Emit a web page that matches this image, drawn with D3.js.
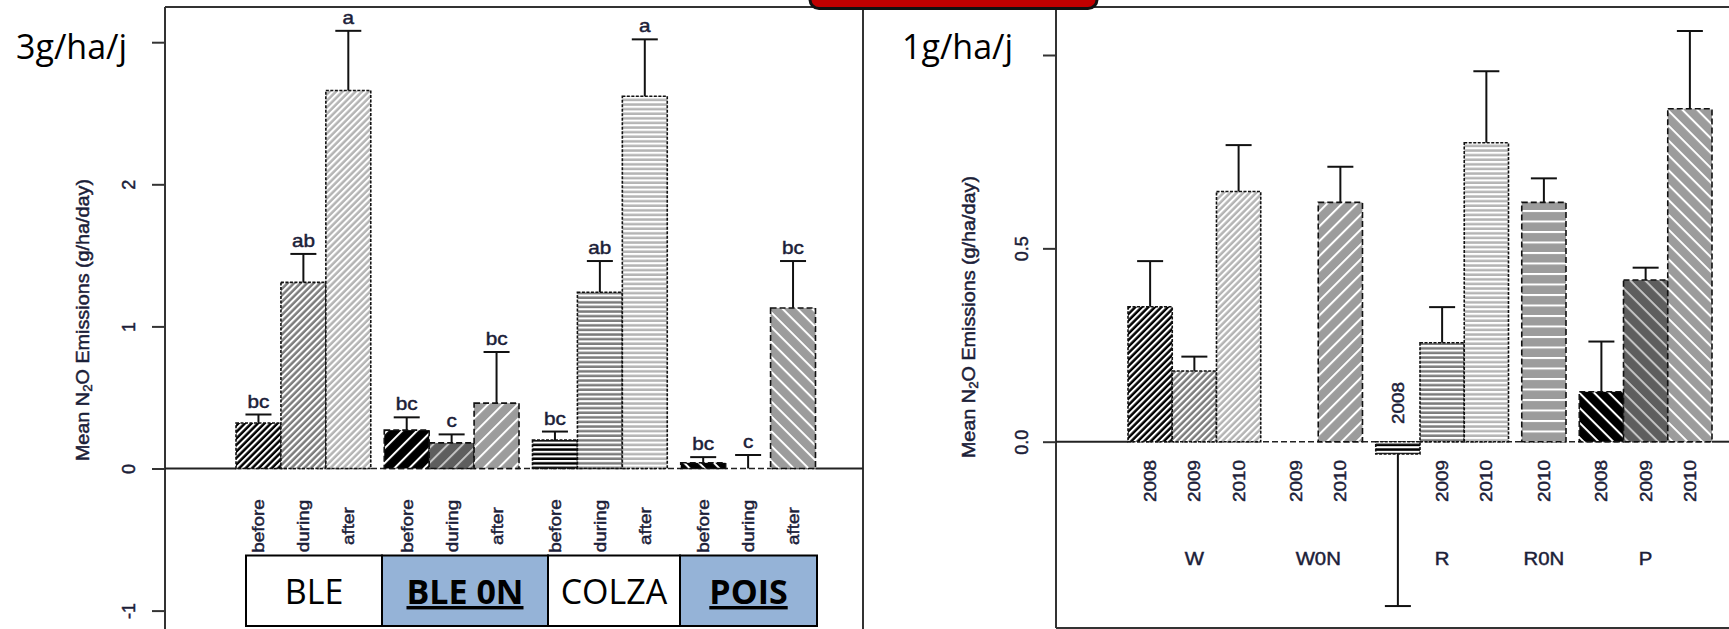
<!DOCTYPE html>
<html>
<head>
<meta charset="utf-8">
<script src="https://cdn.jsdelivr.net/npm/d3@7/dist/d3.min.js"></script>
<style>
  html, body { margin: 0; padding: 0; background: #fff; }
  svg { display: block; }
</style>
</head>
<body>
<svg id="chart" width="1729" height="629"></svg>
<script>
// ---- Left panel: mean N2O emissions by crop and sampling period ----
const leftGroups = ["BLE", "BLE 0N", "COLZA", "POIS"];
const leftPeriods = ["before", "during", "after"];
const leftMeans   = [0.32, 1.31, 2.66,  0.27, 0.18, 0.46,  0.20, 1.24, 2.62,  0.04, 0.00, 1.13];
const leftErrTop  = [0.38, 1.51, 3.08,  0.36, 0.24, 0.82,  0.26, 1.46, 3.02,  0.08, 0.095, 1.46];
const leftLetters = ["bc", "ab", "a",   "bc", "c", "bc",   "bc", "ab", "a",   "bc", "c", "bc"];
const leftTicks = [-1, 0, 1, 2, 3];
const leftTickLabels = ["-1", "0", "1", "2", "3"];
const leftNote = "3g/ha/j";

// ---- Right panel: mean N2O emissions by crop and year ----
const rightGroups = ["W", "W0N", "R", "R0N", "P"];
const rightYears = [["2008", "2009", "2010"], ["2009", "2010"], ["2008", "2009", "2010"], ["2010"], ["2008", "2009", "2010"]];
const rightMeans = [0.349, 0.183, 0.647,  0.000, 0.619,  -0.032, 0.256, 0.773,  0.619,  0.129, 0.418, 0.861];
const rightErr   = [0.467, 0.220, 0.767,  null,  0.711,  -0.425, 0.348, 0.958,  0.681,  0.259, 0.450, 1.062];
const rightTicks = [0, 0.5, 1];
const rightTickLabels = ["0.0", "0.5", "1.0"];
const rightNote = "1g/ha/j";

const yTitle = ["Mean N", "2", "O Emissions (g/ha/day)"];

// ---- styling ----
const INK = "#1b2038";
const FRAME = "#333";
const RFONT = "'Liberation Sans', Arial, Helvetica, sans-serif";
const SFONT = "'Open Sans', 'Noto Sans', sans-serif";

const svg = d3.select("#chart");
const defs = svg.append("defs");

const denseBg  = ["#000000", "#7c7c7c", "#b4b4b4"];
const sparseBg = ["#000000", "#5e5e5e", "#9c9c9c"];
const sparseLine = ["#ffffff", "#c4c4c4", "#ffffff"];

function hatch(angle, dense, shade) {
  const id = `hatch_${angle < 0 ? "m" : "p"}${Math.abs(angle)}_${dense ? "d" : "s"}_${shade}`;
  if (!defs.select("#" + id).empty()) return id;
  const p = dense ? 4.6 : 10.5;
  const lw = dense ? 2.1 : 2.0;
  const pat = defs.append("pattern")
    .attr("id", id)
    .attr("patternUnits", "userSpaceOnUse")
    .attr("width", p).attr("height", p)
    .attr("patternTransform", `rotate(${angle})`);
  pat.append("rect").attr("width", p).attr("height", p).attr("fill", (dense ? denseBg : sparseBg)[shade]);
  pat.append("rect").attr("y", 0).attr("width", p).attr("height", lw).attr("fill", dense ? "#ffffff" : sparseLine[shade]);
  return id;
}

// give the plot lettering the heavier look of the exported figure
function inked(sel) {
  return sel.attr("fill", INK).attr("stroke", INK).attr("stroke-width", 0.45);
}

// bars are laid out in slot units: one unit per bar, 0.3 unit between groups
function layoutUnits(sizes, gap) {
  const out = [];
  let u = 0;
  sizes.forEach((n, g) => {
    for (let i = 0; i < n; i++) { out.push({ g, i, u }); u += 1; }
    u += gap;
  });
  return { slots: out, total: u - gap };
}

// ---- frame lines ----
const frame = svg.append("g").attr("stroke", FRAME).attr("stroke-width", 2).attr("fill", "none");
frame.append("line").attr("x1", 165).attr("x2", 1729).attr("y1", 7).attr("y2", 7);
frame.append("line").attr("x1", 165).attr("x2", 165).attr("y1", 7).attr("y2", 629);
frame.append("line").attr("x1", 863).attr("x2", 863).attr("y1", 7).attr("y2", 629);
frame.append("line").attr("x1", 1056).attr("x2", 1056).attr("y1", 7).attr("y2", 628);
frame.append("line").attr("x1", 1056).attr("x2", 1729).attr("y1", 628).attr("y2", 628);

function drawPanel(o) {
  const { slots, total } = layoutUnits(o.sizes, 0.3);
  const x = d3.scaleLinear().domain([0, total]).range(o.xRange);
  const y = d3.scaleLinear().domain([0, 1]).range(o.yRange);
  const bw = x(1) - x(0);
  const y0 = y(0);

  const g = svg.append("g");

  // baseline: solid outside the bars, dashed through them
  g.append("line").attr("x1", o.axisX).attr("x2", x(0)).attr("y1", y0).attr("y2", y0)
    .attr("stroke", "#222").attr("stroke-width", 2);
  g.append("line").attr("x1", x(total)).attr("x2", o.xEnd).attr("y1", y0).attr("y2", y0)
    .attr("stroke", "#222").attr("stroke-width", 2);
  g.append("line").attr("x1", x(0)).attr("x2", x(total)).attr("y1", y0).attr("y2", y0)
    .attr("stroke", "#222").attr("stroke-width", 1.6).attr("stroke-dasharray", "6,3");

  slots.forEach((s, k) => {
    const v = o.means[k];
    const dense = o.dense[s.g];
    const id = hatch(o.angles[s.g], dense, o.shade(s, k));
    const top = Math.min(y(v), y0), bot = Math.max(y(v), y0);
    g.append("rect")
      .attr("x", x(s.u)).attr("y", top)
      .attr("width", bw).attr("height", bot - top)
      .attr("fill", `url(#${id})`)
      .attr("stroke", "#111").attr("stroke-width", 1.6)
      .attr("stroke-dasharray", dense ? "3,1.5" : "6,3");

    const e = o.err[k];
    const cx = x(s.u + 0.5);
    if (e !== null && e !== undefined) {
      const eg = g.append("g").attr("stroke", "#111").attr("stroke-width", 2);
      eg.append("line").attr("x1", cx).attr("x2", cx).attr("y1", y(v)).attr("y2", y(e));
      eg.append("line").attr("x1", cx - 13).attr("x2", cx + 13).attr("y1", y(e)).attr("y2", y(e));
      if (o.letters) {
        inked(g.append("text")
          .attr("transform", `translate(${cx},${y(e) - 7}) scale(1.15,1)`)
          .attr("text-anchor", "middle")
          .attr("font-family", RFONT).attr("font-size", 18))
          .text(o.letters[k]);
      }
    }

    // rotated category label under the bar (above the baseline for negative bars)
    const ly = v < 0 ? o.negLabelY : o.labelY;
    inked(g.append("text")
      .attr("transform", `translate(${cx},${ly}) rotate(-90) scale(1.18,1)`)
      .attr("x", 0).attr("y", 6)
      .attr("text-anchor", "middle")
      .attr("font-family", RFONT).attr("font-size", 16))
      .text(o.labels[k]);
  });

  // group names under the bars
  if (o.groupLabelY) {
    let start = 0;
    o.sizes.forEach((n, gi) => {
      const u0 = slots[start].u;
      const cx = x(u0 + n / 2);
      inked(g.append("text")
        .attr("transform", `translate(${cx},${o.groupLabelY}) scale(1.1,1)`)
        .attr("text-anchor", "middle")
        .attr("font-family", RFONT).attr("font-size", 18.5))
        .text(o.groups[gi]);
      start += n;
    });
  }

  // y axis
  const axis = d3.axisLeft(y)
    .tickValues(o.ticks)
    .tickFormat((d, i) => o.tickLabels[i])
    .tickSize(13);
  const ga = svg.append("g").attr("transform", `translate(${o.axisX},0)`).call(axis);
  ga.select(".domain").remove();
  ga.selectAll(".tick line").attr("stroke", FRAME).attr("stroke-width", 2);
  inked(ga.selectAll(".tick text")
    .attr("x", 0).attr("dy", null)
    .attr("y", o.tickLabelX + 6.5)
    .attr("transform", "rotate(-90)")
    .attr("text-anchor", "middle")
    .attr("font-family", RFONT).attr("font-size", 18));

  // y axis title
  const t = inked(svg.append("text")
    .attr("transform", `translate(${o.titleX},${o.titleY}) rotate(-90) scale(1.1,1)`)
    .attr("x", 0).attr("y", 6.5)
    .attr("text-anchor", "middle")
    .attr("font-family", RFONT).attr("font-size", 18));
  t.append("tspan").text(yTitle[0]);
  t.append("tspan").attr("font-size", 12).attr("dy", 4).text(yTitle[1]);
  t.append("tspan").attr("dy", -4).text(yTitle[2]);
}

// left panel
drawPanel({
  sizes: [3, 3, 3, 3],
  xRange: [236, 815.5],
  yRange: [468.5, 326.4],
  axisX: 165, xEnd: 863,
  means: leftMeans, err: leftErrTop, letters: leftLetters,
  labels: leftGroups.flatMap(() => leftPeriods),
  angles: [-45, -45, 0, 45],
  dense: [true, false, true, false],
  shade: (s) => s.i,
  labelY: 526, negLabelY: 420,
  ticks: leftTicks, tickLabels: leftTickLabels,
  tickLabelX: -37,
  titleX: 82, titleY: 320
});

// right panel
const yearShade = { "2008": 0, "2009": 1, "2010": 2 };
const rightLabels = rightYears.flat();
drawPanel({
  sizes: rightYears.map(d => d.length),
  xRange: [1128, 1712],
  yRange: [441.7, 55],
  axisX: 1056, xEnd: 1729,
  means: rightMeans, err: rightErr, letters: null,
  labels: rightLabels,
  angles: [-45, -45, 0, 0, 45],
  dense: [true, false, true, false, false],
  shade: (s, k) => yearShade[rightLabels[k]],
  labelY: 481, negLabelY: 403,
  groups: rightGroups, groupLabelY: 565,
  ticks: rightTicks, tickLabels: rightTickLabels,
  tickLabelX: -35,
  titleX: 968, titleY: 317
});

// ---- slide annotations ----
// dose notes in white text boxes over the upper tick labels
svg.append("rect").attr("x", 0).attr("y", 18).attr("width", 150).attr("height", 58).attr("fill", "#fff");
svg.append("text").attr("x", 16).attr("y", 59)
  .attr("font-family", SFONT).attr("font-size", 34).attr("fill", "#000")
  .text(leftNote);
svg.append("rect").attr("x", 885).attr("y", 18).attr("width", 155).attr("height", 58).attr("fill", "#fff");
svg.append("text").attr("x", 902).attr("y", 59)
  .attr("font-family", SFONT).attr("font-size", 34).attr("fill", "#000")
  .text(rightNote);

// crop table below the left panel
const boxEdges = [246, 382, 548, 680, 817];
const boxFill = ["#ffffff", "#95b3d7", "#ffffff", "#95b3d7"];
const boxBold = [false, true, false, true];
const tbl = svg.append("g");
leftGroups.forEach((name, i) => {
  tbl.append("rect")
    .attr("x", boxEdges[i]).attr("y", 555.5)
    .attr("width", boxEdges[i + 1] - boxEdges[i]).attr("height", 70.5)
    .attr("fill", boxFill[i]).attr("stroke", "#000").attr("stroke-width", 2);
  tbl.append("text")
    .attr("x", (boxEdges[i] + boxEdges[i + 1]) / 2).attr("y", 604)
    .attr("text-anchor", "middle")
    .attr("font-family", SFONT).attr("font-size", 34)
    .attr("font-weight", boxBold[i] ? 700 : 400)
    .attr("text-decoration", boxBold[i] ? "underline" : null)
    .attr("fill", "#000")
    .text(name);
});

// red tab at the top edge
svg.append("rect")
  .attr("x", 810).attr("y", -20).attr("width", 287).attr("height", 28.5)
  .attr("rx", 9).attr("ry", 9)
  .attr("fill", "#c00000").attr("stroke", "#111").attr("stroke-width", 3);
</script>
</body>
</html>
